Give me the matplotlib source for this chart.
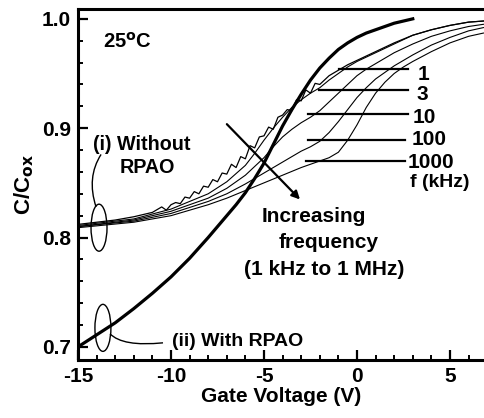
import matplotlib
matplotlib.use("Agg")
import matplotlib.pyplot as plt
from matplotlib.patches import Ellipse, PathPatch
from matplotlib.path import Path
from matplotlib.ticker import MultipleLocator

plt.rcParams['font.family'] = ['Liberation Sans', 'DejaVu Sans']
plt.rcParams['font.weight'] = 'bold'
plt.rcParams['mathtext.default'] = 'bf'

# ---- data ----
v_1k = [-15, -14, -13, -12, -11, -10.5, -10.25, -10.0, -9.75, -9.5, -9.25, -9.0, -8.75, -8.5,
        -8.25, -8.0, -7.75, -7.5, -7.25, -7.0, -6.75, -6.5, -6.25, -6.0, -5.75, -5.5, -5.25,
        -5.0, -4.75, -4.5, -4.25, -4.0, -3.75, -3.5, -3.25, -3.0, -2.75, -2.5, -2.25, -2.0,
        -1.5, -1.0, -0.5, 0, 1, 2, 3, 4, 5, 6, 6.8]
c_1k = [0.812, 0.814, 0.816, 0.819, 0.823, 0.828, 0.825, 0.830, 0.832, 0.831, 0.837, 0.836,
        0.842, 0.840, 0.847, 0.846, 0.853, 0.851, 0.859, 0.858, 0.867, 0.864, 0.874, 0.872,
        0.884, 0.882, 0.892, 0.893, 0.901, 0.899, 0.910, 0.912, 0.917, 0.916, 0.926, 0.925,
        0.935, 0.932, 0.941, 0.940, 0.948, 0.953, 0.958, 0.962, 0.970, 0.978, 0.985, 0.990,
        0.994, 0.997, 0.998]

v_3k = [-15, -12, -10, -8, -7, -6, -5.5, -5, -4.5, -4, -3.5, -3, -2.5, -2, -1.5, -1, -0.5, 0,
        1, 2, 3, 4, 5, 6, 6.8]
c_3k = [0.811, 0.817, 0.826, 0.840, 0.851, 0.866, 0.877, 0.889, 0.900, 0.910, 0.919, 0.926,
        0.932, 0.937, 0.944, 0.950, 0.956, 0.961, 0.969, 0.977, 0.985, 0.990, 0.994, 0.997, 0.998]

v_10k = [-15, -12, -10, -8, -7, -6, -5, -4.5, -4, -3.5, -3, -2.5, -2, -1.5, -1, -0.5, 0, 0.5,
         1, 2, 3, 4, 5, 6, 6.8]
c_10k = [0.810, 0.816, 0.824, 0.836, 0.845, 0.857, 0.873, 0.883, 0.892, 0.899, 0.905, 0.910,
         0.916, 0.924, 0.932, 0.940, 0.948, 0.954, 0.959, 0.969, 0.977, 0.984, 0.989, 0.993, 0.995]

v_100k = [-15, -12, -10, -8, -7, -6, -5, -4, -3.5, -3, -2.5, -2, -1.5, -1, -0.5, 0, 0.5, 1,
          1.5, 2, 3, 4, 5, 6, 6.8]
c_100k = [0.810, 0.815, 0.822, 0.833, 0.840, 0.849, 0.859, 0.869, 0.874, 0.879, 0.883, 0.888,
          0.896, 0.906, 0.917, 0.928, 0.937, 0.945, 0.951, 0.957, 0.967, 0.976, 0.983, 0.989, 0.992]

v_1000k = [-15, -12, -10, -8, -7, -6, -5, -4, -3, -2.5, -2, -1.5, -1, -0.5, 0, 0.5, 1, 1.5,
           2, 2.5, 3, 4, 5, 6, 6.8]
c_1000k = [0.809, 0.814, 0.820, 0.830, 0.836, 0.843, 0.850, 0.857, 0.864, 0.867, 0.870, 0.873,
           0.878, 0.889, 0.903, 0.919, 0.932, 0.942, 0.950, 0.956, 0.961, 0.970, 0.978, 0.984, 0.987]

v_rpao = [-15, -14, -13, -12, -11, -10, -9, -8, -7, -6.5, -6, -5.5, -5, -4.5, -4, -3.5, -3,
          -2.5, -2, -1.5, -1, -0.5, 0, 0.5, 1, 2, 3]
c_rpao = [0.700, 0.711, 0.722, 0.735, 0.749, 0.764, 0.781, 0.800, 0.820, 0.830, 0.841, 0.854,
          0.868, 0.885, 0.902, 0.917, 0.931, 0.944, 0.955, 0.964, 0.972, 0.978, 0.983, 0.987,
          0.990, 0.996, 1.000]

freq_labels = ['1', '3', '10', '100', '1000']
x_ticks = [-15, -10, -5, 0, 5]
y_ticks = [0.7, 0.8, 0.9, 1.0]

# ---- figure ----
fig = plt.figure(figsize=(4.84, 4.18), dpi=100)
ax = fig.add_axes([78/484, 1 - 360/418, 1 - 78/484, (360 - 9)/418])

thin = dict(color='black', lw=0.8)
ax.plot(v_1k, c_1k, color='black', lw=0.9)
ax.plot(v_3k, c_3k, **thin)
ax.plot(v_10k, c_10k, **thin)
ax.plot(v_100k, c_100k, **thin)
ax.plot(v_1000k, c_1000k, **thin)
ax.plot(v_rpao, c_rpao, color='black', lw=2.3)

ax.set_xlim(-15, 6.83)
ax.set_ylim(0.688, 1.009)
ax.set_xticks(x_ticks)
ax.set_yticks(y_ticks)
ax.set_xticklabels([f'{t:d}' for t in x_ticks])
ax.set_yticklabels([f'{t:.1f}' for t in y_ticks])
ax.xaxis.set_minor_locator(MultipleLocator(1))
ax.yaxis.set_minor_locator(MultipleLocator(0.02))
ax.tick_params(which='major', direction='in', length=7, width=1.6, labelsize=15, pad=5)
ax.tick_params(which='minor', direction='in', length=3.5, width=1.4)
ax.tick_params(axis='x', top=False)
ax.tick_params(axis='y', right=False)
for s in ['left', 'bottom', 'top']:
    ax.spines[s].set_linewidth(2.2)
ax.spines['right'].set_visible(False)

ax.set_xlabel('Gate Voltage (V)', fontsize=15, fontweight='bold', labelpad=1)
ax.set_ylabel(r'C/C$_{\mathbf{ox}}$', fontsize=16, fontweight='bold', labelpad=4)

# ---- annotations ----
ax.text(-13.66, 0.979, r'25$^{\mathbf{o}}$C', fontsize=14.5, fontweight='bold', va='center', ha='left')
ax.text(-14.19, 0.885, '(i) Without', fontsize=14.2, fontweight='bold', va='center', ha='left')
ax.text(-12.74, 0.864, 'RPAO', fontsize=14.2, fontweight='bold', va='center', ha='left')
ax.text(-9.95, 0.7046, '(ii) With RPAO', fontsize=14, fontweight='bold', va='center', ha='left')

ax.text(-2.31, 0.819, 'Increasing', fontsize=15, fontweight='bold', va='center', ha='center')
ax.text(-1.55, 0.795, 'frequency', fontsize=15, fontweight='bold', va='center', ha='center')
ax.text(-1.77, 0.771, '(1 kHz to 1 MHz)', fontsize=15, fontweight='bold', va='center', ha='center')

ax.add_patch(Ellipse((-13.87, 0.809), 0.86, 0.043, fill=False, lw=1.0, color='black'))
ax.add_patch(Ellipse((-13.66, 0.7174), 0.86, 0.043, fill=False, lw=1.0, color='black'))

p1 = Path([(-13.76, 0.876), (-14.55, 0.855), (-14.03, 0.828)], [Path.MOVETO, Path.CURVE3, Path.CURVE3])
ax.add_patch(PathPatch(p1, fill=False, lw=1.0, color='black'))
p2 = Path([(-13.28, 0.712), (-12.6, 0.700), (-10.43, 0.7037)], [Path.MOVETO, Path.CURVE3, Path.CURVE3])
ax.add_patch(PathPatch(p2, fill=False, lw=1.0, color='black'))

ax.annotate('', xy=(-2.96, 0.833), xytext=(-7.10, 0.9055),
            arrowprops=dict(arrowstyle='-|>', color='black', lw=1.6, mutation_scale=12))

# frequency label lines
line_y = [0.954, 0.935, 0.913, 0.889, 0.870]
line_x0 = [-0.97, -2.04, -2.63, -2.63, -2.74]
line_x1 = [2.74, 2.74, 2.74, 2.58, 2.58]
text_y = [0.9495, 0.931, 0.910, 0.890, 0.869]
text_x = [3.25, 3.2, 3.0, 2.95, 2.75]
for y, x0, x1, ty, tx, lab in zip(line_y, line_x0, line_x1, text_y, text_x, freq_labels):
    ax.plot([x0, x1], [y, y], color='black', lw=1.6)
    ax.text(tx, ty, lab, fontsize=15, fontweight='bold', va='center', ha='left')
ax.text(2.85, 0.850, 'f (kHz)', fontsize=14, fontweight='bold', va='center', ha='left')

fig.savefig('out.png', dpi=100)
